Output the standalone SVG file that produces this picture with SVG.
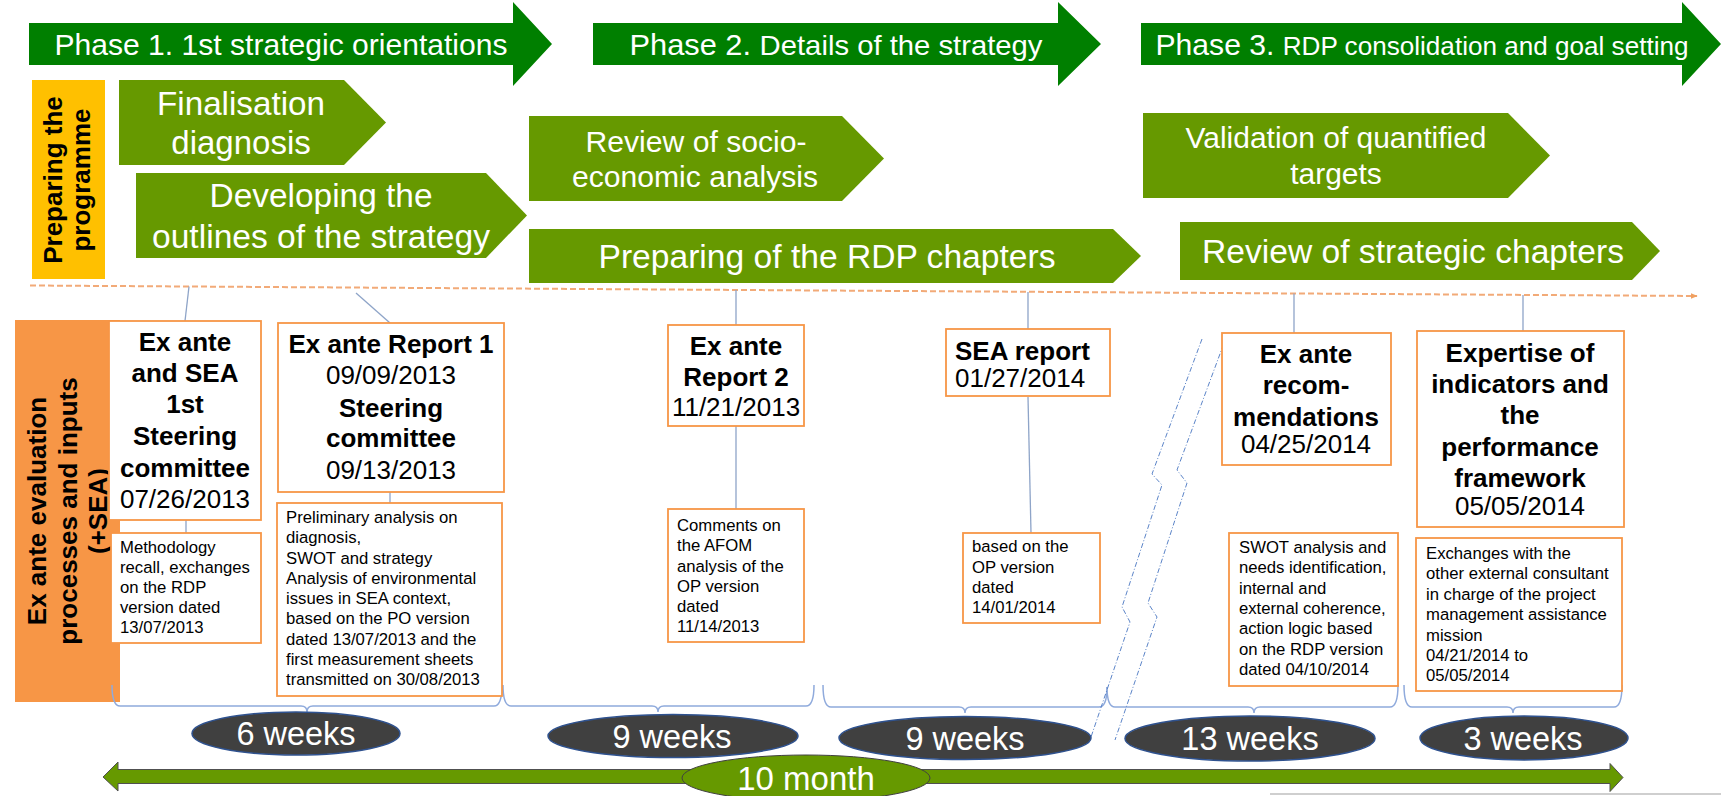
<svg xmlns="http://www.w3.org/2000/svg" width="1721" height="796" viewBox="0 0 1721 796">
  <defs>
    <style>
      .ph { fill:#007F00; }
      .pent { fill:#669900; }
      .wl { fill:#ffffff; font-family:"Liberation Sans", Arial, sans-serif; text-anchor:middle; }
      .box { fill:#ffffff; stroke:#F79646; stroke-width:1.8; }
      .hd { font-family:"Liberation Sans", Arial, sans-serif; font-size:26px; fill:#000; text-anchor:middle; }
      .hd.left { text-anchor:start; }
      .b { font-weight:bold; }
      .sm { font-family:"Liberation Sans", Arial, sans-serif; font-size:16.7px; fill:#000; }
      .con { stroke:#8EA4C8; stroke-width:1.3; fill:none; }
      .brace { stroke:#8FAADC; stroke-width:1.5; fill:none; }
      .wk { fill:#404040; stroke:#2F528F; stroke-width:1.5; }
      .brk { stroke:#5B84C8; stroke-width:1; fill:none; stroke-dasharray:5 2 1 2; }
    </style>
    <marker id="tl-head" viewBox="0 0 10 10" refX="9" refY="5" markerWidth="7" markerHeight="7" orient="auto" markerUnits="userSpaceOnUse">
      <path d="M0,1 L10,5 L0,9 Z" fill="#F0A060"/>
    </marker>
  </defs>

  <!-- Phase arrows -->
  <g id="phase1">
    <polygon class="ph" points="29,23 513,23 513,2 552,44 513,86 513,65 29,65"/>
    <text class="wl" x="281" y="55" font-size="30" textLength="453" lengthAdjust="spacingAndGlyphs">Phase 1. 1st strategic orientations</text>
  </g>
  <g id="phase2">
    <polygon class="ph" points="593,23 1058,23 1058,2 1101,44 1058,86 1058,65 593,65"/>
    <text class="wl" x="836" y="55" textLength="413" lengthAdjust="spacingAndGlyphs"><tspan font-size="30">Phase 2. </tspan><tspan font-size="28.5">Details of the strategy</tspan></text>
  </g>
  <g id="phase3">
    <polygon class="ph" points="1141,23 1682,23 1682,2 1721,44 1682,86 1682,65 1141,65"/>
    <text class="wl" x="1422" y="55" textLength="533" lengthAdjust="spacingAndGlyphs"><tspan font-size="30">Phase 3. </tspan><tspan font-size="26">RDP consolidation and goal setting</tspan></text>
  </g>

  <!-- Programme preparation lane -->
  <g id="prep-label">
    <rect x="32" y="80" width="73" height="199" fill="#FFC000"/>
    <text class="hd b" transform="translate(62,180) rotate(-90)" x="0" y="0">Preparing the</text>
    <text class="hd b" transform="translate(90,180) rotate(-90)" x="0" y="0">programme</text>
  </g>
  <g id="finalisation">
    <polygon class="pent" points="119,80 344,80 386,122.5 344,165 119,165"/>
    <text class="wl" x="241" y="115" font-size="33" textLength="168" lengthAdjust="spacingAndGlyphs">Finalisation</text>
    <text class="wl" x="241" y="154" font-size="33">diagnosis</text>
  </g>
  <g id="developing">
    <polygon class="pent" points="136,173 486,173 527,215.5 486,258 136,258"/>
    <text class="wl" x="321" y="207" font-size="33" textLength="223" lengthAdjust="spacingAndGlyphs">Developing the</text>
    <text class="wl" x="321" y="248" font-size="33" textLength="338" lengthAdjust="spacingAndGlyphs">outlines of the strategy</text>
  </g>
  <g id="review-socio">
    <polygon class="pent" points="529,116 842,116 884,158.5 842,201 529,201"/>
    <text class="wl" x="696" y="152" font-size="30" textLength="221" lengthAdjust="spacingAndGlyphs">Review of socio-</text>
    <text class="wl" x="695" y="187" font-size="30" textLength="246" lengthAdjust="spacingAndGlyphs">economic analysis</text>
  </g>
  <g id="preparing-rdp">
    <polygon class="pent" points="529,229 1113,229 1141,256 1113,283 529,283"/>
    <text class="wl" x="827" y="268" font-size="33" textLength="457" lengthAdjust="spacingAndGlyphs">Preparing of the RDP chapters</text>
  </g>
  <g id="validation">
    <polygon class="pent" points="1143,113 1508,113 1550,155.5 1508,198 1143,198"/>
    <text class="wl" x="1336" y="148" font-size="30" textLength="301" lengthAdjust="spacingAndGlyphs">Validation of quantified</text>
    <text class="wl" x="1336" y="184" font-size="30">targets</text>
  </g>
  <g id="review-strategic">
    <polygon class="pent" points="1180,222 1632,222 1660,251 1632,280 1180,280"/>
    <text class="wl" x="1413" y="263" font-size="33" textLength="422" lengthAdjust="spacingAndGlyphs">Review of strategic chapters</text>
  </g>

  <!-- Evaluation lane label -->
  <g id="eval-label">
    <rect x="15" y="320" width="105" height="382" fill="#F79646"/>
    <text class="hd b" transform="translate(46,511) rotate(-90)" x="0" y="0">Ex ante evaluation</text>
    <text class="hd b" transform="translate(77,511) rotate(-90)" x="0" y="0">processes and inputs</text>
    <text class="hd b" transform="translate(107,511) rotate(-90)" x="0" y="0">(+SEA)</text>
  </g>

  <!-- Connectors: timeline, ties, braces, break mark -->
  <g id="connectors">
    <line x1="30" y1="285.5" x2="1697" y2="296" stroke="#F2AA78" stroke-width="2" stroke-dasharray="6 3" marker-end="url(#tl-head)"/>
    <line class="con" x1="189" y1="286.5" x2="185" y2="321"/>
    <line class="con" x1="186" y1="520" x2="186" y2="533"/>
    <line class="con" x1="356" y1="293" x2="390" y2="323"/>
    <line class="con" x1="390" y1="492" x2="390" y2="503"/>
    <line class="con" x1="736" y1="290" x2="736" y2="325"/>
    <line class="con" x1="736" y1="426" x2="736" y2="509"/>
    <line class="con" x1="1028" y1="292" x2="1028" y2="330"/>
    <line class="con" x1="1028" y1="397" x2="1031" y2="533"/>
    <line class="con" x1="1294" y1="293.5" x2="1294" y2="333"/>
    <line class="con" x1="1523" y1="295" x2="1523" y2="331"/>

    <path class="brace" d="M112,685 Q112,706 120,706 L301,706 Q307,706 307,712 Q307,706 313,706 L494,706 Q502,706 502,685"/>
    <path class="brace" d="M503,685 Q503,706 511,706 L652,706 Q658,706 658,712 Q658,706 664,706 L806,706 Q814,706 814,685"/>
    <path class="brace" d="M823,685 Q823,707 831,707 L959,707 Q965,707 965,713 Q965,707 971,707 L1099,707 Q1107,707 1107,687"/>
    <path class="brace" d="M1107,687 Q1107,707 1115,707 L1248,707 Q1254,707 1254,713 Q1254,707 1260,707 L1390,707 Q1398,707 1398,685"/>
    <path class="brace" d="M1404,685 Q1404,707 1412,707 L1507,707 Q1513,707 1513,713 Q1513,707 1519,707 L1614,707 Q1622,707 1622,685"/>

    <polyline class="brk" points="1202,339 1152,474 1162,485 1122,607 1130,622 1090,740"/>
    <polyline class="brk" points="1227,335 1177,470 1187,483 1148,603 1157,617 1115,740"/>
  </g>

  <!-- Evaluation milestones -->
  <g id="steering1">
    <rect class="box" x="109" y="321" width="152" height="199"/>
    <text class="hd b" x="185" y="351">Ex ante</text>
    <text class="hd b" x="185" y="382">and SEA</text>
    <text class="hd b" x="185" y="413">1st</text>
    <text class="hd b" x="185" y="445">Steering</text>
    <text class="hd b" x="185" y="477">committee</text>
    <text class="hd" x="185" y="508">07/26/2013</text>
  </g>
  <g id="steering1-note">
    <rect class="box" x="111" y="533" width="150" height="110"/>
    <text class="sm" x="120" y="553">Methodology</text>
    <text class="sm" x="120" y="573">recall, exchanges</text>
    <text class="sm" x="120" y="593">on the RDP</text>
    <text class="sm" x="120" y="613">version dated</text>
    <text class="sm" x="120" y="633">13/07/2013</text>
  </g>
  <g id="report1">
    <rect class="box" x="278" y="323" width="226" height="169"/>
    <text class="hd b" x="391" y="353">Ex ante Report 1</text>
    <text class="hd" x="391" y="384">09/09/2013</text>
    <text class="hd b" x="391" y="417">Steering</text>
    <text class="hd b" x="391" y="447">committee</text>
    <text class="hd" x="391" y="479">09/13/2013</text>
  </g>
  <g id="report1-note">
    <rect class="box" x="277" y="503" width="225" height="193"/>
    <text class="sm" x="286" y="523">Preliminary analysis on</text>
    <text class="sm" x="286" y="543">diagnosis,</text>
    <text class="sm" x="286" y="564">SWOT and strategy</text>
    <text class="sm" x="286" y="584">Analysis of environmental</text>
    <text class="sm" x="286" y="604">issues in SEA context,</text>
    <text class="sm" x="286" y="624">based on the PO version</text>
    <text class="sm" x="286" y="645">dated 13/07/2013 and the</text>
    <text class="sm" x="286" y="665">first measurement sheets</text>
    <text class="sm" x="286" y="685">transmitted on 30/08/2013</text>
  </g>
  <g id="report2">
    <rect class="box" x="668" y="325" width="136" height="101"/>
    <text class="hd b" x="736" y="355">Ex ante</text>
    <text class="hd b" x="736" y="386">Report 2</text>
    <text class="hd" x="736" y="416">11/21/2013</text>
  </g>
  <g id="report2-note">
    <rect class="box" x="668" y="509" width="136" height="133"/>
    <text class="sm" x="677" y="531">Comments on</text>
    <text class="sm" x="677" y="551">the AFOM</text>
    <text class="sm" x="677" y="572">analysis of the</text>
    <text class="sm" x="677" y="592">OP version</text>
    <text class="sm" x="677" y="612">dated</text>
    <text class="sm" x="677" y="632">11/14/2013</text>
  </g>
  <g id="sea-report">
    <rect class="box" x="946" y="329" width="164" height="67"/>
    <text class="hd b left" x="955" y="360">SEA report</text>
    <text class="hd left" x="955" y="387">01/27/2014</text>
  </g>
  <g id="sea-report-note">
    <rect class="box" x="963" y="533" width="137" height="90"/>
    <text class="sm" x="972" y="552">based on the</text>
    <text class="sm" x="972" y="573">OP version</text>
    <text class="sm" x="972" y="593">dated</text>
    <text class="sm" x="972" y="613">14/01/2014</text>
  </g>
  <g id="recommendations">
    <rect class="box" x="1222" y="333" width="169" height="132"/>
    <text class="hd b" x="1306" y="363">Ex ante</text>
    <text class="hd b" x="1306" y="394">recom-</text>
    <text class="hd b" x="1306" y="426">mendations</text>
    <text class="hd" x="1306" y="453">04/25/2014</text>
  </g>
  <g id="recommendations-note">
    <rect class="box" x="1229" y="533" width="169" height="153"/>
    <text class="sm" x="1239" y="553">SWOT analysis and</text>
    <text class="sm" x="1239" y="573">needs identification,</text>
    <text class="sm" x="1239" y="594">internal and</text>
    <text class="sm" x="1239" y="614">external coherence,</text>
    <text class="sm" x="1239" y="634">action logic based</text>
    <text class="sm" x="1239" y="655">on the RDP version</text>
    <text class="sm" x="1239" y="675">dated 04/10/2014</text>
  </g>
  <g id="indicators">
    <rect class="box" x="1417" y="331" width="207" height="196"/>
    <text class="hd b" x="1520" y="362">Expertise of</text>
    <text class="hd b" x="1520" y="393">indicators and</text>
    <text class="hd b" x="1520" y="424">the</text>
    <text class="hd b" x="1520" y="456">performance</text>
    <text class="hd b" x="1520" y="487">framework</text>
    <text class="hd" x="1520" y="515">05/05/2014</text>
  </g>
  <g id="indicators-note">
    <rect class="box" x="1416" y="538" width="206" height="153"/>
    <text class="sm" x="1426" y="559">Exchanges with the</text>
    <text class="sm" x="1426" y="579">other external consultant</text>
    <text class="sm" x="1426" y="600">in charge of the project</text>
    <text class="sm" x="1426" y="620">management assistance</text>
    <text class="sm" x="1426" y="641">mission</text>
    <text class="sm" x="1426" y="661">04/21/2014 to</text>
    <text class="sm" x="1426" y="681">05/05/2014</text>
  </g>

  <!-- Durations -->
  <g id="dur-6w">
    <ellipse class="wk" cx="296" cy="733.5" rx="104" ry="21.5"/>
    <text class="wl" x="296" y="745" font-size="32.5">6 weeks</text>
  </g>
  <g id="dur-9w-a">
    <ellipse class="wk" cx="673" cy="736" rx="125" ry="21.5"/>
    <text class="wl" x="672" y="748" font-size="32.5">9 weeks</text>
  </g>
  <g id="dur-9w-b">
    <ellipse class="wk" cx="965" cy="738" rx="126" ry="21.5"/>
    <text class="wl" x="965" y="750" font-size="32.5">9 weeks</text>
  </g>
  <g id="dur-13w">
    <ellipse class="wk" cx="1250" cy="738.5" rx="125" ry="22.5"/>
    <text class="wl" x="1250" y="750" font-size="32.5">13 weeks</text>
  </g>
  <g id="dur-3w">
    <ellipse class="wk" cx="1524" cy="738" rx="104" ry="22"/>
    <text class="wl" x="1523" y="750" font-size="32.5">3 weeks</text>
  </g>

  <!-- Overall span -->
  <g id="span">
    <polygon points="103,777 118,762 118,769.5 1610,769.5 1610,763.5 1623,777.5 1610,791.5 1610,783.5 118,783.5 118,791" fill="#669900" stroke="#505050" stroke-width="1"/>
    <ellipse cx="806" cy="778" rx="124" ry="23" fill="#669900" stroke="#404040" stroke-width="1"/>
    <text class="wl" x="806" y="790" font-size="33">10 month</text>
  </g>
  <line x1="1270" y1="794" x2="1721" y2="794" stroke="#BFBFBF" stroke-width="1.5"/>
</svg>
